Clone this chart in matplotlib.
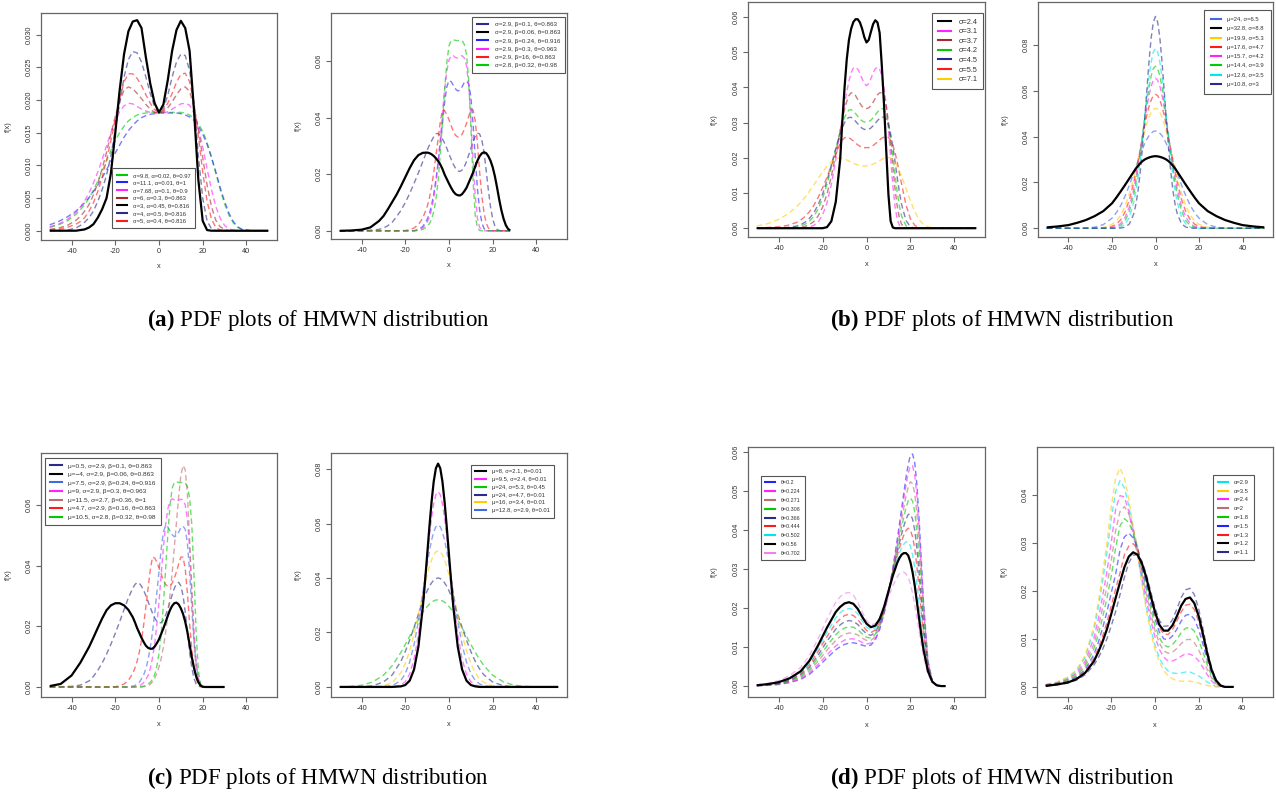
import matplotlib
matplotlib.use('Agg')
import matplotlib.pyplot as plt
from matplotlib.lines import Line2D

plt.rcParams['font.family'] = ['Liberation Sans', 'DejaVu Sans']
plt.rcParams['mathtext.fontset'] = 'custom'
plt.rcParams['mathtext.rm'] = 'Liberation Serif'
plt.rcParams['mathtext.bf'] = 'Liberation Serif:bold'

W, H = 1276, 794

# ---------------- colours ----------------
GREEN, BLUE, MAGENTA, BROWN = '#00cc00', '#2222ff', '#ff22ff', '#a52a2a'
BLACK, NAVY, RED, GOLD = '#000000', '#2b2b8c', '#ff1a1a', '#ffcc00'
CYAN, ROSY, PINK, ROYAL = '#00e5ee', '#bc6f6f', '#ee82ee', '#4169e1'

# ---------------- (a) left ----------------
a1_x = [-50,-46,-42,-38,-36,-34,-32,-30,-28,-26,-24,-22,-20,-18,-16,-14,-12,-10,-8,-6,-4,-2,0,2,4,6,8,10,12,14,16,18,20,22,24,26,28,30,32,34,36,38,42,46,50]
a1_green = [.0005,.0009,.0015,.0025,.0032,.004,.005,.0062,.0076,.0091,.0107,.0123,.0138,.015,.016,.0168,.0173,.0177,.0179,.018,.0181,.0181,.0181,.0181,.0181,.0181,.0181,.0181,.018,.0177,.0172,.0164,.0152,.0135,.0113,.0088,.0063,.0041,.0024,.0012,.0005,.0002,0,0,0]
a1_blue = [.0009,.0014,.0021,.003,.0036,.0043,.0051,.006,.007,.0081,.0093,.0106,.0119,.0131,.0143,.0153,.0161,.0168,.0173,.0176,.0178,.0179,.018,.018,.018,.018,.018,.0179,.0177,.0174,.0169,.016,.0148,.0132,.0112,.009,.0066,.0045,.0027,.0014,.0006,.0002,0,0,0]
a1_magenta = [.0006,.001,.0017,.0028,.0036,.0046,.0058,.0073,.009,.0109,.013,.015,.0168,.0182,.0191,.0195,.0194,.019,.0186,.0183,.0181,.018,.018,.018,.0182,.0186,.019,.0194,.0195,.0192,.018,.0158,.0128,.0095,.0063,.0037,.0019,.0008,.0003,.0001,0,0,0,0,0]
a1_brown = [.0002,.0004,.0008,.0016,.0022,.003,.004,.0055,.0073,.0095,.012,.0148,.0175,.0198,.0215,.022,.0217,.021,.0202,.0193,.0186,.0181,.018,.0182,.0188,.0197,.0208,.0217,.022,.0213,.019,.0155,.0112,.007,.0037,.0016,.0006,.0002,0,0,0,0,0,0,0]
a1_black = [0,0,0,0,.0001,.0002,.0005,.001,.002,.0033,.005,.0088,.015,.0215,.027,.0305,.032,.0322,.031,.0265,.0225,.0195,.0181,.0193,.023,.0275,.0307,.0321,.031,.0275,.0185,.0078,.0015,.0001,0,0,0,0,0,0,0,0,0,0,0]
a1_navy = [0,0,.0001,.0004,.0008,.0013,.002,.003,.0045,.0063,.0085,.0115,.0155,.0195,.0235,.0262,.0274,.0272,.0258,.0235,.021,.0189,.018,.0187,.0207,.0235,.0258,.027,.0268,.0245,.0195,.0115,.005,.0015,.0003,0,0,0,0,0,0,0,0,0,0]
a1_red = [.0001,.0002,.0005,.001,.0014,.002,.003,.0043,.006,.0082,.0108,.0138,.017,.0202,.0228,.024,.024,.0233,.0222,.0208,.0195,.0185,.018,.0184,.0195,.021,.0227,.0239,.0241,.0228,.0195,.0145,.009,.0045,.0018,.0005,.0001,0,0,0,0,0,0,0,0]
a1_labels = ['σ=9.8, α=0.02, θ=0.97', 'σ=11.1, α=0.01, θ=1', 'σ=7.68, α=0.1, θ=0.9', 'σ=6, α=0.3, θ=0.863',
             'σ=3, α=0.45, θ=0.816', 'σ=4, α=0.5, θ=0.816', 'σ=5, α=0.4, θ=0.816']

# ---------------- (a) right ----------------
a2_x = [-50,-45,-40,-36,-32,-30,-28,-26,-24,-22,-20,-18,-16,-14,-12,-10,-9,-8,-7,-6,-5,-4,-3,-2,-1,0,1,2,3,4,5,6,7,8,9,10,11,12,13,14,15,16,17,18,19,20,21,22,23,24,25,26,27,28]
a2_navy = [0,0,.0001,.0002,.0005,.001,.0018,.003,.005,.0072,.01,.0132,.0168,.0205,.0245,.0285,.0303,.0318,.0333,.0343,.0345,.0338,.0325,.031,.0292,.0272,.0253,.0235,.0221,.0212,.021,.0215,.0227,.0245,.0268,.0292,.0315,.0335,.0346,.0343,.0322,.028,.0215,.0145,.0085,.0042,.0017,.0005,.0001,0,0,0,0,0]
a2_black = [0,.0001,.0004,.0012,.0035,.0052,.0076,.0102,.0128,.0158,.019,.0222,.025,.0268,.0276,.0277,.0275,.0271,.0265,.0257,.0247,.0235,.0219,.0199,.0183,.0167,.0152,.0139,.013,.0126,.0125,.013,.014,.0152,.017,.0188,.0206,.0228,.0248,.0264,.0274,.0278,.0275,.0264,.0248,.0225,.0193,.0153,.011,.0072,.0042,.002,.0007,.0001]
a2_blue = [0,0,0,0,0,0,0,0,0,0,0,0,0,.0005,.0015,.004,.006,.009,.013,.018,.024,.031,.038,.0455,.051,.0532,.0528,.0515,.0502,.0495,.0498,.051,.0525,.053,.052,.0475,.038,.026,.015,.0075,.003,.0008,.0002,0,0,0,0,0,0,0,0,0,0,0]
a2_magenta = [0,0,0,0,0,0,0,0,0,0,0,0,0,.0003,.001,.003,.0048,.0075,.0115,.017,.024,.0325,.0415,.05,.0565,.0605,.062,.062,.0613,.0612,.0617,.062,.0612,.0585,.052,.04,.025,.0125,.0045,.0012,.0002,0,0,0,0,0,0,0,0,0,0,0,0,0]
a2_red = [0,0,0,0,0,0,0,0,0,0,.0001,.0004,.001,.0022,.0045,.0085,.0115,.0155,.0205,.0265,.0325,.0385,.0428,.0425,.0412,.0393,.0372,.0352,.0338,.0332,.0333,.0342,.0358,.038,.0405,.0428,.0428,.039,.031,.021,.0125,.0065,.0028,.001,.0003,0,0,0,0,0,0,0,0,0]
a2_green = [0,0,0,0,0,0,0,0,0,0,0,0,0,.0001,.0005,.0015,.0025,.004,.0068,.011,.0175,.027,.0385,.05,.0595,.0655,.0674,.0676,.0674,.0673,.0675,.0673,.066,.0625,.0535,.037,.018,.0055,.001,.0001,0,0,0,0,0,0,0,0,0,0,0,0,0,0]
a2_labels = ['σ=2.9, β=0.1, θ=0.863', 'σ=2.9, β=0.06, θ=0.863', 'σ=2.9, β=0.24, θ=0.916',
             'σ=2.9, β=0.3, θ=0.963', 'σ=2.9, β=16, θ=0.863', 'σ=2.8, β=0.32, θ=0.98']

# ---------------- (b) left ----------------
b1_x = [-50,-45,-40,-36,-32,-30,-28,-26,-24,-22,-20,-18,-16,-14,-12,-11,-10,-9,-8,-7,-6,-5,-4,-3,-2,-1,0,1,2,3,4,5,6,7,8,9,10,11,12,13,14,15,16,18,20,22,24,26,28,30,32,36,40,45,50]
b1_black = [0,0,0,0,0,0,0,0,0,0,0,.0003,.002,.0075,.0195,.0305,.04,.048,.0535,.0567,.0586,.0594,.0594,.0585,.0567,.0543,.0528,.0535,.0558,.058,.0591,.0585,.0555,.046,.035,.022,.0095,.002,.0002,0,0,0,0,0,0,0,0,0,0,0,0,0,0,0,0]
b1_magenta = [0,0,0,0,0,0,.0001,.0003,.0008,.0018,.0038,.0072,.0125,.0195,.0275,.0315,.0352,.0388,.0418,.0442,.0455,.0458,.0452,.0441,.0425,.0411,.0405,.0411,.0425,.0441,.0453,.0458,.0452,.0432,.04,.035,.028,.02,.0122,.0062,.0025,.0008,.0002,0,0,0,0,0,0,0,0,0,0,0,0]
b1_brown = [0,0,0,0,.0001,.0002,.0005,.001,.0019,.0035,.006,.0097,.0148,.021,.0278,.0308,.0337,.036,.0377,.0385,.0384,.0377,.0366,.0355,.0346,.0341,.034,.0342,.0348,.0358,.0369,.0379,.0385,.0385,.0375,.0348,.0302,.0242,.0175,.0112,.0062,.0029,.0011,.0001,0,0,0,0,0,0,0,0,0,0,0]
b1_green = [0,0,0,.0001,.0003,.0006,.0011,.002,.0034,.0055,.0085,.0125,.0173,.0225,.0275,.0297,.0315,.0328,.0336,.0337,.0333,.0326,.0318,.031,.0305,.0302,.0302,.0303,.0307,.0314,.0322,.033,.0337,.034,.0338,.0325,.0298,.0258,.0207,.0152,.0102,.0062,.0034,.0007,.0001,0,0,0,0,0,0,0,0,0,0]
b1_navy = [0,0,.0001,.0002,.0006,.001,.0017,.0028,.0044,.0067,.0097,.0135,.018,.0226,.0268,.0285,.03,.031,.0315,.0315,.0311,.0304,.0297,.029,.0284,.0281,.028,.0281,.0285,.0291,.0298,.0306,.0312,.0315,.0316,.031,.0294,.0268,.0232,.019,.0145,.0102,.0067,.0022,.0004,0,0,0,0,0,0,0,0,0,0]
b1_red = [.0001,.0002,.0004,.0008,.0016,.0023,.0033,.0047,.0065,.0088,.0115,.0145,.0178,.0211,.0241,.0251,.0257,.0259,.0257,.0253,.0248,.0242,.0237,.0233,.023,.0229,.0229,.0229,.0231,.0235,.024,.0245,.0251,.0256,.0259,.026,.0258,.025,.0236,.0215,.0188,.0157,.0125,.0066,.0027,.0008,.0001,0,0,0,0,0,0,0,0]
b1_gold = [.0006,.0013,.0025,.004,.006,.0073,.0088,.0105,.0123,.0142,.016,.0176,.0189,.0197,.02,.0199,.0197,.0194,.0191,.0188,.0185,.0182,.018,.0178,.0177,.0177,.0177,.0178,.018,.0182,.0185,.0188,.0192,.0196,.0199,.0201,.0201,.0199,.0194,.0186,.0175,.0162,.0147,.0113,.0078,.0047,.0024,.001,.0004,.0001,0,0,0,0,0]
b1_labels = ['σ=2.4', 'σ=3.1', 'σ=3.7', 'σ=4.2', 'σ=4.5', 'σ=5.5', 'σ=7.1']

# ---------------- (b) right ----------------
b2_x = [-50,-45,-40,-36,-32,-28,-24,-20,-18,-16,-14,-12,-10,-9,-8,-7,-6,-5,-4,-3,-2,-1,0,1,2,3,4,5,6,7,8,9,10,12,14,16,18,20,24,28,32,36,40,45,50]
b2_blue = [0,0,0,0,.0001,.0005,.0016,.0044,.0068,.0099,.014,.0188,.0241,.0268,.0296,.0322,.0347,.0369,.0388,.0404,.0415,.0423,.0425,.0423,.0415,.0404,.0388,.0369,.0347,.0322,.0296,.0268,.0241,.0188,.014,.0099,.0068,.0044,.0016,.0005,.0001,0,0,0,0]
b2_black = [.0004,.0008,.0014,.0024,.0036,.0053,.0075,.0109,.0134,.0161,.0189,.0218,.0247,.0261,.0273,.0284,.0293,.03,.0305,.0309,.0312,.0314,.0315,.0314,.0312,.0309,.0305,.03,.0293,.0284,.0273,.0261,.0247,.0218,.0189,.0161,.0134,.0109,.0075,.0053,.0036,.0024,.0014,.0008,.0004]
b2_gold = [0,0,0,0,0,.0001,.0004,.0017,.0032,.0057,.0096,.0151,.0221,.026,.0302,.0343,.0384,.0422,.0456,.0485,.0506,.052,.0524,.052,.0506,.0485,.0456,.0422,.0384,.0343,.0302,.026,.0221,.0151,.0096,.0057,.0032,.0017,.0004,.0001,0,0,0,0,0]
b2_red = [0,0,0,0,0,0,.0001,.0008,.0018,.0037,.0071,.0124,.02,.0245,.0294,.0345,.0397,.0447,.0493,.0531,.056,.0579,.0585,.0579,.056,.0531,.0493,.0447,.0397,.0345,.0294,.0245,.02,.0124,.0071,.0037,.0018,.0008,.0001,0,0,0,0,0,0]
b2_magenta = [0,0,0,0,0,0,0,.0003,.0008,.0021,.0047,.0094,.017,.022,.0276,.0339,.0403,.0468,.0528,.058,.0621,.0646,.0655,.0646,.0621,.058,.0528,.0468,.0403,.0339,.0276,.022,.017,.0094,.0047,.0021,.0008,.0003,0,0,0,0,0,0,0]
b2_green = [0,0,0,0,0,0,0,.0001,.0004,.0013,.0032,.0074,.0147,.0198,.0259,.0328,.0402,.0478,.0551,.0615,.0665,.0697,.0708,.0697,.0665,.0615,.0551,.0478,.0402,.0328,.0259,.0198,.0147,.0074,.0032,.0013,.0004,.0001,0,0,0,0,0,0,0]
b2_cyan = [0,0,0,0,0,0,0,0,.0001,.0005,.0018,.0048,.0113,.0163,.0227,.0304,.0391,.0484,.0576,.0659,.0726,.077,.0785,.077,.0726,.0659,.0576,.0484,.0391,.0304,.0227,.0163,.0113,.0048,.0018,.0005,.0001,0,0,0,0,0,0,0,0]
b2_navy = [0,0,0,0,0,0,0,0,0,.0001,.0005,.0019,.0063,.0105,.0165,.0247,.0351,.0472,.0601,.0726,.0831,.09,.0925,.09,.0831,.0726,.0601,.0472,.0351,.0247,.0165,.0105,.0063,.0019,.0005,.0001,0,0,0,0,0,0,0,0,0]
b2_labels = ['μ=24, σ=6.5', 'μ=32.8, σ=8.8', 'μ=19.9, σ=5.3', 'μ=17.6, σ=4.7',
             'μ=15.7, σ=4.2', 'μ=14.4, σ=3.9', 'μ=12.6, σ=3.5', 'μ=10.8, σ=3']

# ---------------- (c) left ----------------
c1_x = [-50,-45,-40,-36,-32,-30,-28,-26,-24,-22,-20,-18,-16,-14,-12,-11,-10,-9,-8,-7,-6,-5,-4,-3,-2,-1,0,1,2,3,4,5,6,7,8,9,10,11,12,13,14,15,16,17,18,19,20,21,22,24,26,28,30]
c1_navy = [0,.0001,.0002,.0006,.002,.0035,.0055,.0079,.0108,.0141,.0177,.0215,.0255,.0294,.0325,.0338,.0344,.0342,.0332,.0318,.0301,.0282,.0262,.0244,.0228,.0216,.0211,.0212,.0221,.0236,.0256,.028,.0303,.0325,.034,.0345,.0333,.0301,.0248,.018,.0115,.0063,.0029,.001,.0003,.0001,0,0,0,0,0,0,0]
c1_black = [.0003,.001,.0038,.008,.0132,.0163,.0195,.0226,.0253,.0269,.0276,.0276,.0269,.0254,.023,.0213,.0194,.0178,.0162,.0148,.0136,.0129,.0126,.0126,.0133,.0144,.0157,.0175,.0193,.0213,.0234,.0253,.0267,.0276,.0278,.0272,.0259,.0241,.0215,.0181,.014,.0098,.0063,.0035,.0016,.0005,.0001,0,0,0,0,0,0]
c1_blue = [0,0,0,0,0,0,0,0,0,0,0,0,0,0,.0003,.0005,.001,.0015,.0027,.004,.006,.009,.013,.018,.024,.031,.038,.0455,.051,.0532,.0528,.0515,.0502,.0495,.0498,.051,.0525,.053,.052,.0475,.038,.026,.015,.0075,.003,.0008,.0002,0,0,0,0,0,0]
c1_magenta = [0,0,0,0,0,0,0,0,0,0,0,0,0,0,0,.0001,.0002,.0005,.0008,.0015,.0025,.0038,.006,.0095,.014,.0205,.028,.037,.0458,.0533,.0585,.0613,.062,.0617,.0612,.0615,.0619,.0616,.06,.0553,.046,.0325,.0188,.0085,.0028,.0007,.0001,0,0,0,0,0,0]
c1_brown = [0,0,0,0,0,0,0,0,0,0,0,0,0,0,0,0,0,0,0,.0001,.0002,.0005,.0009,.0017,.0028,.0045,.0066,.0094,.0131,.0178,.0234,.03,.0374,.0459,.0543,.0627,.0697,.073,.0716,.0636,.0487,.0309,.015,.0056,.0014,.0002,0,0,0,0,0,0,0]
c1_red = [0,0,0,0,0,0,0,0,0,0,.0001,.0004,.001,.0022,.0045,.0063,.0085,.0115,.0155,.0205,.0265,.0325,.0385,.0428,.0425,.0412,.0393,.0372,.0352,.0338,.0332,.0333,.0342,.0358,.038,.0405,.0428,.0428,.039,.031,.021,.0125,.0065,.0028,.001,.0003,0,0,0,0,0,0,0]
c1_green = [0,0,0,0,0,0,0,0,0,0,0,0,0,0,0,0,0,0,.0001,.0003,.0005,.001,.0015,.0025,.004,.0068,.011,.0175,.027,.0385,.05,.0595,.0655,.0674,.0676,.0674,.0673,.0675,.0673,.066,.0625,.0535,.037,.018,.0055,.001,.0001,0,0,0,0,0,0]
c1_labels = ['μ=0.5, σ=2.9, β=0.1, θ=0.863', 'μ=−4, σ=2.9, β=0.06, θ=0.863', 'μ=7.5, σ=2.9, β=0.24, θ=0.916',
             'μ=9, σ=2.9, β=0.3, θ=0.963', 'μ=11.5, σ=2.7, β=0.36, θ=1', 'μ=4.7, σ=2.9, β=0.16, θ=0.863',
             'μ=10.5, σ=2.8, β=0.32, θ=0.98']

# ---------------- (c) right ----------------
c2_x = [-50,-45,-40,-35,-30,-26,-22,-20,-18,-16,-14,-12,-11,-10,-9,-8,-7,-6,-5,-4,-3,-2,-1,0,1,2,4,6,8,10,12,14,16,20,25,30,35,40,45,50]
c2_black = [0,0,0,0,0,0,.0002,.0007,.0023,.0064,.0148,.0292,.0384,.0484,.0585,.0678,.0754,.0803,.082,.0803,.0754,.0678,.0585,.0484,.0384,.0292,.0148,.0064,.0023,.0007,.0002,0,0,0,0,0,0,0,0,0]
c2_magenta = [0,0,0,0,0,0,.0007,.0019,.0047,.0101,.0193,.0324,.04,.0478,.0553,.062,.0672,.0706,.0717,.0706,.0672,.062,.0553,.0478,.04,.0324,.0193,.0101,.0047,.0019,.0007,.0002,0,0,0,0,0,0,0,0]
c2_green = [0,.0002,.0006,.0018,.0043,.0078,.0127,.0156,.0186,.0217,.0247,.0274,.0285,.0295,.0304,.0311,.0316,.0319,.032,.0319,.0316,.0311,.0304,.0295,.0285,.0274,.0247,.0217,.0186,.0156,.0127,.0101,.0078,.0043,.0018,.0006,.0002,0,0,0]
c2_navy = [0,0,.0001,.0004,.0018,.0044,.0094,.013,.0172,.0218,.0267,.0313,.0334,.0353,.0369,.0382,.0392,.0398,.04,.0398,.0392,.0382,.0369,.0353,.0334,.0313,.0267,.0218,.0172,.013,.0094,.0066,.0044,.0018,.0004,.0001,0,0,0,0]
c2_gold = [0,0,0,0,.0004,.0016,.0052,.0086,.0133,.0193,.0265,.034,.0377,.0411,.0441,.0466,.0485,.0496,.05,.0496,.0485,.0466,.0441,.0411,.0377,.034,.0265,.0193,.0133,.0086,.0052,.0029,.0016,.0004,0,0,0,0,0,0]
c2_blue = [0,0,0,0,.0001,.0004,.0024,.0049,.0091,.0155,.0241,.0345,.0399,.045,.0498,.0538,.0569,.0588,.0595,.0588,.0569,.0538,.0498,.045,.0399,.0345,.0241,.0155,.0091,.0049,.0024,.0011,.0004,.0001,0,0,0,0,0,0]
c2_labels = ['μ=8, σ=2.1, θ=0.01', 'μ=9.5, σ=2.4, θ=0.01', 'μ=24, σ=5.3, θ=0.45',
             'μ=24, σ=4.7, θ=0.01', 'μ=16, σ=3.4, θ=0.01', 'μ=12.8, σ=2.9, θ=0.01']

# ---------------- (d) left ----------------
d1_x = [-50,-45,-40,-35,-30,-26,-22,-18,-14,-12,-10,-8,-6,-4,-2,0,2,4,6,8,10,12,14,15,16,17,18,19,20,21,22,23,24,25,26,28,30,32,34,36]
d1_blue = [.0001,.0002,.0004,.0009,.0017,.003,.005,.0072,.0093,.0101,.0107,.011,.0111,.0109,.0105,.0102,.0105,.0118,.0145,.0185,.0238,.0302,.0375,.0415,.0455,.0495,.0535,.0568,.0592,.0595,.0572,.0515,.0425,.032,.0215,.0065,.0012,.0002,0,0]
d1_magenta = [.0001,.0002,.0005,.001,.0019,.0034,.0056,.008,.0103,.0111,.0118,.0121,.0121,.0118,.0112,.0108,.011,.0122,.0148,.0187,.0239,.03,.0369,.0406,.0443,.048,.0516,.0545,.0565,.0565,.054,.0485,.04,.0301,.0203,.0062,.0012,.0002,0,0]
d1_brown = [.0001,.0003,.0006,.0012,.0022,.0039,.0064,.0092,.0117,.0127,.0133,.0136,.0136,.0131,.0123,.0117,.0117,.0127,.0152,.019,.0239,.0297,.036,.0393,.0426,.0457,.0487,.051,.0524,.0519,.0493,.044,.0362,.0273,.0185,.0058,.0012,.0002,0,0]
d1_green = [.0001,.0003,.0006,.0013,.0025,.0044,.0072,.0103,.0132,.0142,.0149,.0152,.0151,.0145,.0134,.0125,.0123,.0133,.0156,.0192,.024,.0294,.0351,.038,.0408,.0433,.0457,.0475,.0482,.0474,.0446,.0395,.0324,.0244,.0166,.0054,.0012,.0002,0,0]
d1_navy = [.0002,.0004,.0007,.0015,.0029,.0049,.008,.0115,.0146,.0157,.0165,.0168,.0166,.0158,.0145,.0134,.013,.0138,.016,.0195,.0241,.0292,.0343,.0367,.039,.041,.0428,.044,.0441,.0428,.0399,.035,.0286,.0216,.0148,.005,.0011,.0002,0,0]
d1_red = [.0002,.0004,.0008,.0017,.0032,.0055,.0089,.0127,.0161,.0172,.0181,.0184,.0181,.0171,.0156,.0143,.0137,.0144,.0164,.0198,.0242,.0289,.0334,.0354,.0372,.0387,.0399,.0405,.04,.0383,.0352,.0305,.0248,.0187,.013,.0046,.0011,.0002,0,0]
d1_cyan = [.0002,.0005,.0009,.0018,.0035,.006,.0097,.0138,.0175,.0188,.0196,.0199,.0196,.0185,.0167,.0151,.0144,.0149,.0168,.02,.0242,.0286,.0325,.0341,.0355,.0364,.037,.037,.0359,.0337,.0304,.026,.021,.0159,.0111,.0042,.0011,.0002,0,0]
d1_black = [.0002,.0005,.001,.002,.0038,.0065,.0105,.015,.019,.0203,.0212,.0215,.0211,.0198,.0178,.016,.0151,.0155,.0172,.0203,.0243,.0283,.0316,.0328,.0337,.0341,.0341,.0335,.0318,.0292,.0257,.0215,.0172,.013,.0093,.0038,.0011,.0002,0,0]
d1_pink = [.0003,.0007,.0014,.0027,.0048,.0078,.0122,.0172,.0215,.0229,.0238,.024,.0233,.0215,.019,.0168,.0157,.016,.0175,.0199,.0228,.0257,.028,.0288,.0292,.0292,.0288,.0278,.0262,.0238,.0208,.0175,.014,.0106,.0076,.0031,.0009,.0002,0,0]
d1_labels = ['θ=0.2', 'θ=0.224', 'θ=0.271', 'θ=0.308', 'θ=0.366', 'θ=0.444', 'θ=0.502', 'θ=0.56', 'θ=0.702']

# ---------------- (d) right ----------------
d2_x = [-50,-45,-40,-36,-32,-28,-26,-24,-22,-20,-18,-16,-14,-12,-10,-8,-6,-4,-2,0,2,4,6,8,10,12,14,16,18,20,22,24,26,28,30,32,34,36]
d2_cyan = [.0005,.0009,.0019,.0033,.0061,.0117,.0164,.0219,.028,.035,.0407,.0429,.0414,.0377,.0329,.0275,.022,.0168,.0123,.0087,.006,.0043,.0033,.0029,.0028,.0029,.0031,.0031,.0027,.0023,.0016,.001,.0005,.0001,0,0,0,0]
d2_gold = [.0005,.001,.002,.0035,.0065,.0125,.0175,.0235,.03,.0375,.0435,.0455,.0435,.039,.0335,.0275,.0215,.016,.0115,.0078,.0052,.0034,.0023,.0017,.0013,.0012,.0012,.0012,.001,.0008,.0005,.0003,.0001,0,0,0,0,0]
d2_magenta = [.0004,.0008,.0016,.0029,.0053,.0101,.014,.0188,.024,.0301,.037,.0398,.0395,.0365,.0317,.0275,.0229,.0183,.014,.0104,.0078,.0062,.0054,.0054,.0058,.0064,.0069,.0068,.0064,.0054,.004,.0025,.0012,.0004,.0001,0,0,0]
d2_brown = [.0004,.0007,.0015,.0026,.0047,.0089,.0123,.0164,.021,.0263,.0325,.0365,.0375,.036,.033,.029,.0236,.0194,.0153,.0117,.0091,.0075,.007,.0072,.008,.009,.0098,.0099,.0092,.0077,.0057,.0035,.0018,.0006,.0001,0,0,0]
d2_green = [.0003,.0007,.0013,.0023,.0042,.0079,.0108,.0144,.0184,.0231,.029,.0335,.035,.0342,.032,.029,.0242,.0204,.0164,.0128,.0102,.0087,.0083,.0088,.0099,.0113,.0122,.0124,.0116,.0097,.0072,.0045,.0022,.0008,.0002,0,0,0]
d2_blue = [.0003,.0006,.0011,.002,.0036,.0067,.0092,.0122,.0156,.0196,.0235,.0285,.0312,.032,.031,.029,.0249,.0214,.0175,.0141,.0114,.01,.0098,.0106,.012,.0137,.0149,.0151,.0141,.0119,.0088,.0055,.0028,.001,.0002,0,0,0]
d2_red = [.0003,.0005,.001,.0018,.0032,.0059,.008,.0105,.0134,.0169,.0204,.0237,.0275,.0293,.0298,.0288,.0254,.0222,.0185,.015,.0123,.011,.0109,.0119,.0137,.0156,.017,.0172,.0161,.0136,.01,.0063,.0032,.0012,.0002,0,0,0]
d2_black = [.0002,.0005,.0009,.0016,.0029,.0053,.0072,.0094,.012,.0152,.0185,.0218,.0249,.0271,.028,.0275,.0257,.0228,.019,.0156,.0129,.0117,.0117,.0128,.0147,.0169,.0183,.0186,.0174,.0147,.0109,.0068,.0034,.0013,.0003,0,0,0]
d2_navy = [.0002,.0004,.0008,.0014,.0025,.0045,.006,.0078,.01,.0127,.0157,.0192,.0228,.0258,.0274,.0275,.0262,.0235,.0199,.0165,.0138,.0126,.0127,.014,.0162,.0186,.0202,.0205,.0192,.0162,.012,.0075,.0038,.0014,.0003,0,0,0]
d2_labels = ['α=2.9', 'α=3.5', 'α=2.4', 'α=2', 'α=1.8', 'α=1.5', 'α=1.3', 'α=1.2', 'α=1.1']

# ---------------- drawing ----------------
fig = plt.figure(figsize=(W / 100, H / 100), dpi=100)
TXT = '#333333'
FRAME = '#666666'


def panel(box, xs, curves, labels, ylim, yticks, yfmt, leg_loc, leg_anchor, fs, lsp, bpad):
    x0, y0, x1, y1 = box
    ax = fig.add_axes([x0 / W, 1 - y1 / H, (x1 - x0) / W, (y1 - y0) / H])
    for ys, col in curves:
        if len(ys) != len(xs):
            raise ValueError('length mismatch %d vs %d' % (len(ys), len(xs)))
        if col == BLACK:
            ax.plot(xs, ys, color=BLACK, lw=1.6, solid_capstyle='butt', zorder=3)
        else:
            ax.plot(xs, ys, color=col, lw=1.0, ls=(0, (4, 2.5)), alpha=0.6, zorder=2)
    ax.set_xlim(-54, 54)
    ax.set_ylim(*ylim)
    ax.set_xticks([-40, -20, 0, 20, 40])
    ax.set_xticklabels(['-40', '-20', '0', '20', '40'])
    ax.set_yticks(yticks)
    ax.set_yticklabels([yfmt % v for v in yticks], rotation=90, va='center')
    ax.tick_params(direction='out', length=3.5, width=0.8, color=FRAME,
                   labelsize=5.3, labelcolor=TXT, pad=2.5)
    for s in ax.spines.values():
        s.set_color(FRAME)
        s.set_linewidth(0.9)
    ax.set_xlabel('x', fontsize=5.3, color=TXT)
    ax.set_ylabel('f(x)', fontsize=5.3, color=TXT)
    ax.xaxis.set_label_coords(0.5, -0.1)
    ax.yaxis.set_label_coords(-0.125, 0.5)
    handles = [Line2D([], [], color=c, lw=1.5) for _, c in curves]
    leg = ax.legend(handles, labels, loc=leg_loc, bbox_to_anchor=leg_anchor,
                    fontsize=fs, frameon=True, fancybox=False, edgecolor='#555555',
                    framealpha=1, borderpad=bpad, handlelength=1.8, handletextpad=1.0,
                    labelspacing=lsp, borderaxespad=0)
    leg.get_frame().set_linewidth(0.8)
    for t in leg.get_texts():
        t.set_color(TXT)
    return ax


panel((41, 13, 277, 240), a1_x,
      [(a1_green, GREEN), (a1_blue, BLUE), (a1_magenta, MAGENTA), (a1_brown, BROWN),
       (a1_black, BLACK), (a1_navy, NAVY), (a1_red, RED)], a1_labels,
      (-0.00142, 0.0333), [0, .005, .01, .015, .02, .025, .03], '%.3f', 'upper left', (0.301, 0.317),
      4.2, 0.44, 0.8)

panel((331, 13, 567, 239), a2_x,
      [(a2_navy, NAVY), (a2_black, BLACK), (a2_blue, BLUE), (a2_magenta, MAGENTA),
       (a2_red, RED), (a2_green, GREEN)], a2_labels,
      (-0.0029, 0.0771), [0, .02, .04, .06], '%.2f', 'upper right', (0.991, 0.982),
      4.5, 0.44, 0.78)

panel((748, 2, 985, 237), b1_x,
      [(b1_black, BLACK), (b1_magenta, MAGENTA), (b1_brown, BROWN), (b1_green, GREEN),
       (b1_navy, NAVY), (b1_red, RED), (b1_gold, GOLD)], b1_labels,
      (-0.0025, 0.0643), [0, .01, .02, .03, .04, .05, .06], '%.2f', 'upper right', (0.9916, 0.953),
      5.3, 0.33, 0.75)

panel((1038, 2, 1273, 237), b2_x,
      [(b2_blue, ROYAL), (b2_black, BLACK), (b2_gold, GOLD), (b2_red, RED),
       (b2_magenta, MAGENTA), (b2_green, GREEN), (b2_cyan, CYAN), (b2_navy, NAVY)], b2_labels,
      (-0.0038, 0.0988), [0, .02, .04, .06, .08], '%.2f', 'upper right', (0.991, 0.966),
      4.2, 0.72, 1.2)

panel((41, 453, 277, 697), c1_x,
      [(c1_navy, NAVY), (c1_black, BLACK), (c1_blue, ROYAL), (c1_magenta, MAGENTA),
       (c1_brown, ROSY), (c1_red, RED), (c1_green, GREEN)], c1_labels,
      (-0.0033, 0.0771), [0, .02, .04, .06], '%.2f', 'upper left', (0.017, 0.98),
      4.65, 0.47, 0.8)

panel((331, 453, 567, 697), c2_x,
      [(c2_black, BLACK), (c2_magenta, MAGENTA), (c2_green, GREEN), (c2_navy, NAVY),
       (c2_gold, GOLD), (c2_blue, ROYAL)], c2_labels,
      (-0.0037, 0.0859), [0, .02, .04, .06, .08], '%.2f', 'upper left', (0.593, 0.951),
      4.2, 0.46, 0.75)

panel((748, 447, 985, 697), d1_x,
      [(d1_blue, BLUE), (d1_magenta, MAGENTA), (d1_brown, ROSY), (d1_green, GREEN),
       (d1_navy, NAVY), (d1_red, RED), (d1_cyan, CYAN), (d1_black, BLACK), (d1_pink, PINK)], d1_labels,
      (-0.0028, 0.0613), [0, .01, .02, .03, .04, .05, .06], '%.2f', 'upper left', (0.055, 0.884),
      3.9, 0.7, 0.8)

panel((1037, 447, 1273, 697), d2_x,
      [(d2_cyan, CYAN), (d2_gold, GOLD), (d2_magenta, MAGENTA), (d2_brown, ROSY),
       (d2_green, GREEN), (d2_blue, BLUE), (d2_red, RED), (d2_black, BLACK), (d2_navy, NAVY)], d2_labels,
      (-0.0021, 0.0499), [0, .01, .02, .03, .04], '%.2f', 'upper right', (0.919, 0.888),
      4.2, 0.64, 0.8)

captions = [(318, 320, 'a'), (1002, 320, 'b'), (318, 778, 'c'), (1002, 778, 'd')]
for cx, cy, tag in captions:
    fig.text(cx / W, 1 - cy / H, r'$\mathbf{(%s)}$ PDF plots of HMWN distribution' % tag,
             fontsize=16.5, family='Liberation Serif', ha='center', va='center', color='black')

fig.savefig('out.png', dpi=100, facecolor='white')
